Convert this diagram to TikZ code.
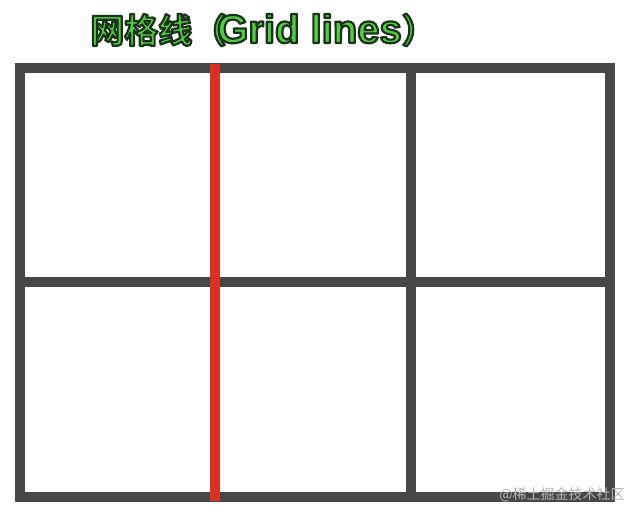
\documentclass[tikz,border=0pt]{standalone}
\usepackage{fontspec}
\newfontfamily\cjkbold[BoldFont=* Bold]{Noto Sans CJK SC}
\newfontfamily\cjkfont{Noto Sans CJK SC}
\newfontfamily\latinbold{Liberation Sans}
\definecolor{gridgray}{HTML}{474747}
\definecolor{gridred}{HTML}{D83222}
\definecolor{titlegreen}{HTML}{58C84A}
\definecolor{wmgray}{HTML}{B4B4B4}
\newcommand{\outlineon}{\special{pdf:literal direct 2 Tr 2.2 w 1 j 0.1 0.2 0.1 RG}}
\newcommand{\outlineoff}{\special{pdf:literal direct 0 Tr}}
\tikzset{
  gline/.style={draw=gridgray, line width=10pt, line cap=rect},
  rline/.style={draw=gridred, line width=10pt},
  title/.style={inner sep=0pt, text=titlegreen},
  wmark/.style={inner sep=0pt, text=wmgray, font=\cjkfont\fontsize{14}{16}\selectfont}
}
\begin{document}
\begin{tikzpicture}[x=1pt,y=-1pt]
\useasboundingbox (0,0) rectangle (638,518);
\fill[white] (0,0) rectangle (638,518);
% frame coordinates
\coordinate (tl) at (20,68);
\coordinate (tr) at (610,68);
\coordinate (bl) at (20,497);
\coordinate (br) at (610,497);
\coordinate (ml) at (20,282);
\coordinate (mr) at (610,282);
\coordinate (v2t) at (411,68);
\coordinate (v2b) at (411,497);
\coordinate (v1t) at (215,64);
\coordinate (v1b) at (215,501);
\draw[gline] (tl) -- (tr) -- (br) -- (bl) -- cycle;
\draw[gline] (ml) -- (mr);
\draw[gline] (v2t) -- (v2b);
\draw[rline] (v1t) -- (v1b);
\node[title] (t) at (263,30) {\outlineon{\cjkbold\bfseries\fontsize{34}{37}\selectfont 网格线}{\cjkbold\bfseries\fontsize{34}{37}\selectfont （}\hspace{-9pt}{\latinbold\bfseries\fontsize{40}{43}\selectfont Grid lines}{\cjkbold\bfseries\fontsize{34}{37}\selectfont ）}\outlineoff};
\node[wmark] (w) at (562,495) {@稀土掘金技术社区};
\end{tikzpicture}
\end{document}
